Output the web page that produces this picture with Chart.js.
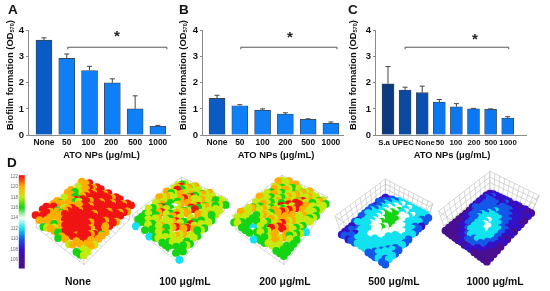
<!DOCTYPE html>
<html>
<head>
<meta charset="utf-8">
<script src="https://cdn.jsdelivr.net/npm/chart.js@4"></script>
<style>
    body { margin: 0; background: #fff; overflow: hidden; }
    #page { position: relative; width: 550px; height: 291px; font-family: "Liberation Sans", Arial, sans-serif; font-weight: bold; color: #111; }
    canvas { position: absolute; left: 0; top: 0; }
    #chartD { filter: blur(0.7px); }
    .letter { position: absolute; font-size: 13.5px; line-height: 14px; }
    .caption { position: absolute; font-size: 10.4px; line-height: 12px; width: 100px; text-align: center; }
</style>
</head>
<body>
<div id="page">
    <canvas id="chartD" width="550" height="291"></canvas>
    <canvas id="chartA" width="550" height="175"></canvas>
    <canvas id="chartB" width="550" height="175"></canvas>
    <canvas id="chartC" width="550" height="175"></canvas>
</div>
<script>
// bar values
const labelsAB = ["None", "50", "100", "200", "500", "1000"]
const labelsC = ["S.a", "UPEC", "None", "50", "100", "200", "500", "1000"]

const valuesA = [3.63, 2.93, 2.47, 2.0, 1.0, 0.33]
const errorsA = [0.09, 0.17, 0.16, 0.15, 0.5, 0.04]
const valuesB = [1.4, 1.12, 0.95, 0.8, 0.6, 0.45]
const errorsB = [0.12, 0.04, 0.05, 0.05, 0.02, 0.05]
const valuesC = [1.96, 1.72, 1.62, 1.26, 1.08, 1.0, 0.98, 0.65]
const errorsC = [0.66, 0.11, 0.25, 0.1, 0.12, 0.02, 0.02, 0.05]

const darkBlue = "#0a5cc4"
const lightBlue = "#0f7ff5"
const colorsAB = [darkBlue, lightBlue, lightBlue, lightBlue, lightBlue, lightBlue]
const colorsC = ["#0b3a80", "#0b4a9f", "#0a4fae", "#0b78f2", "#0b78f2", "#0b78f2", "#0b78f2", "#0b78f2"]

// colour bar of panel D
const colorTicks = [122, 120, 118, 116, 114, 112, 110, 108, 106]
const levelColors = ["#4a0f90", "#3410c8", "#1458ea", "#12e2f0", "#f4fff8", "#14d414", "#c4ea10", "#ffae00", "#f01414"]

// surfaces: one digit per cell, index into colorTicks from the bottom (0 = 106 ... 8 = 122)
// top left of the block = back corner, top right = right corner, bottom left = left corner, bottom right = front corner
const surfaceNone = [
    "77878878788788", "67787888878887", "56778887888878", "75578788887888", "77568878888887",
    "67787888788788", "56777788888878", "77678888878857", "75578888887687", "78778888888787",
    "87777888888876", "88757788878877", "78776578887766", "87567757767556"]
const surface100 = [
    "56567656765665", "65676567667567", "67865766756766", "56876786567656", "76657875786675",
    "67546756887566", "76554667765765", "65765676567656", "56786578656875", "65578667877866",
    "56567656786755", "55655675667656", "55565567656555", "35453556555453"]
const surface200 = [
    "66757656766565", "75667567675676", "66576675667656", "57656766787665", "65765676887656",
    "66567568786766", "76656687876653", "65765778767565", "56676667676656", "67567576787565",
    "66556656788765", "76535656876755", "65554565677655", "56555355566555"]
const surface500 = [
    "11223333333332", "12233343433322", "22333443434331", "12334445443322", "22334455443332",
    "23334555544333", "23334455544432", "22334454543332", "12334445433333", "23333444433322",
    "11233343333232", "12133333332333", "11223333323323", "12122333222322"]
const surface1000 = [
    "01111110110100", "11211121111101", "12222122211110", "11222222221110", "11222232222111",
    "12222333322110", "01223333332211", "01223334333210", "01122334433211", "00122333433210",
    "00112333332110", "00011232322100", "00001122211000", "00000101100000"]

// cages of the five plots in page pixels, corners in the order left, front, right, back
const cageNone = { top: [[32, 217], [81, 253], [129, 207], [79, 180]], floor: [[33, 230], [81, 268], [127, 222], [79, 195]] }
const cage100 = { top: [[130, 217], [178, 250], [227, 200], [180, 178]], floor: [[135, 232], [178, 267], [223, 213], [181, 193]] }
const cage200 = { top: [[232, 217], [284, 250], [328, 198], [282, 176]], floor: [[235, 232], [284, 268], [325, 213], [283, 192]] }
const cage500 = { top: [[336, 218], [387, 253], [435, 205], [387, 180]], floor: [[343, 238], [387, 270], [430, 222], [387, 200]] }
const cage1000 = { top: [[441, 213], [490, 248], [543, 197], [493, 172]], floor: [[448, 233], [490, 265], [535, 215], [493, 195]] }

const letters = [["A", 8, 3], ["B", 179, 3], ["C", 348, 3], ["D", 7, 156]]
const captions = [["None", 78], ["100 μg/mL", 185], ["200 μg/mL", 285], ["500 μg/mL", 394], ["1000 μg/mL", 495]]

const page = document.getElementById("page")
for (const l of letters) {
    const el = document.createElement("div")
    el.className = "letter"
    el.textContent = l[0]
    el.style.left = l[1] + "px"
    el.style.top = l[2] + "px"
    page.appendChild(el)
}
for (const c of captions) {
    const el = document.createElement("div")
    el.className = "caption"
    el.textContent = c[0]
    el.style.left = (c[1] - 50) + "px"
    el.style.top = "276px"
    page.appendChild(el)
}

const FONT = '"Liberation Sans", Arial, sans-serif'

// draws what chart.js has no option for: error bars, bracket + star, axis titles
function overlayPlugin(p) {
    return {
        id: "overlay",
        afterDatasetsDraw(chart) {
            const ctx = chart.ctx
            const x = chart.scales.x
            const y = chart.scales.y
            ctx.save()

            ctx.strokeStyle = "#444"
            ctx.lineWidth = 1
            p.values.forEach((v, i) => {
                const px = x.getPixelForValue(i)
                const top = y.getPixelForValue(v + p.errors[i])
                ctx.beginPath()
                ctx.moveTo(px, y.getPixelForValue(v))
                ctx.lineTo(px, top)
                ctx.moveTo(px - 2.5, top)
                ctx.lineTo(px + 2.5, top)
                ctx.stroke()
            })

            // bracket
            const by = y.getPixelForValue(3.36)
            const bx1 = x.getPixelForValue(1) + p.bracketPad[0]
            const bx2 = x.getPixelForValue(p.values.length - 1) + p.bracketPad[1]
            ctx.strokeStyle = "#555"
            ctx.beginPath()
            ctx.moveTo(bx1, by + 2)
            ctx.lineTo(bx1, by)
            ctx.lineTo(bx2, by)
            ctx.lineTo(bx2, by + 2)
            ctx.stroke()

            ctx.fillStyle = "#222"
            ctx.font = "bold 15px " + FONT
            ctx.textAlign = "center"
            ctx.textBaseline = "middle"
            ctx.fillText("*", p.starX, p.starY)

            ctx.fillStyle = "#111"
            ctx.font = "bold 9.4px " + FONT
            ctx.fillText("ATO NPs (μg/mL)", p.xTitleX, 155)

            // y title with the subscript
            ctx.translate(p.yTitleX, 75)
            ctx.rotate(-Math.PI / 2)
            const main = "Biofilm formation (OD"
            const w1 = ctx.measureText(main).width
            const w3 = ctx.measureText(")").width
            ctx.font = "bold 5.6px " + FONT
            const w2 = ctx.measureText("570").width
            const start = -(w1 + w2 + w3) / 2
            ctx.textAlign = "left"
            ctx.fillText("570", start + w1, 2.5)
            ctx.font = "bold 9.4px " + FONT
            ctx.fillText(main, start, 0)
            ctx.fillText(")", start + w1 + w2, 0)
            ctx.restore()
        }
    }
}

function barChart(id, p) {
    return new Chart(document.getElementById(id), {
        type: "bar",
        data: {
            datasets: [{
                data: p.values.map((v, i) => ({ x: i, y: v })),
                backgroundColor: p.colors,
                borderColor: "#3c4656",
                borderWidth: 0.8,
                barThickness: p.barWidth
            }]
        },
        options: {
            responsive: false,
            animation: false,
            layout: { padding: { left: p.plotLeft - 28, right: 550 - p.plotRight, top: 30.5, bottom: 0 } },
            plugins: { legend: { display: false }, tooltip: { enabled: false } },
            scales: {
                x: {
                    type: "linear",
                    offset: false,
                    min: p.xMin,
                    max: p.xMax,
                    afterFit: s => { s.height = 40 },
                    // labels do not sit exactly under the bars in the original
                    afterBuildTicks: s => { s.ticks = p.labelAt.map(v => ({ value: v })) },
                    border: { color: "#8a8a8a" },
                    grid: { display: false, drawTicks: false },
                    ticks: {
                        autoSkip: false,
                        maxRotation: 0,
                        padding: 3,
                        color: "#111",
                        font: { family: FONT, weight: "bold", size: p.tickSize },
                        callback: (v, i) => p.labels[i]
                    }
                },
                y: {
                    min: 0,
                    max: 4,
                    afterFit: s => { s.width = 28 },
                    border: { color: "#8a8a8a" },
                    grid: { drawOnChartArea: false, tickLength: 2, color: "#8a8a8a" },
                    ticks: {
                        stepSize: 1,
                        padding: 2,
                        color: "#111",
                        font: { family: FONT, weight: "bold", size: 9.5 }
                    }
                }
            }
        },
        plugins: [overlayPlugin(p)]
    })
}

barChart("chartA", {
    labels: labelsAB, values: valuesA, errors: errorsA, colors: colorsAB,
    labelAt: [0, 1, 1.95, 2.95, 4, 5],
    plotLeft: 28, plotRight: 170, xMin: -0.7, xMax: 5.53, barWidth: 16, tickSize: 8.4,
    bracketPad: [1, 9], starX: 117, starY: 37, xTitleX: 101.5, yTitleX: 10
})
barChart("chartB", {
    labels: labelsAB, values: valuesB, errors: errorsB, colors: colorsAB,
    labelAt: [0, 1, 2, 3, 4, 5],
    plotLeft: 202, plotRight: 343, xMin: -0.66, xMax: 5.53, barWidth: 16, tickSize: 8.4,
    bracketPad: [1, 6], starX: 290, starY: 38, xTitleX: 276, yTitleX: 183
})
barChart("chartC", {
    labels: labelsC, values: valuesC, errors: errorsC, colors: colorsC,
    labelAt: [-0.23, 0.88, 2.17, 3.04, 3.97, 5.03, 6.02, 7.02],
    plotLeft: 375, plotRight: 526, xMin: -0.76, xMax: 8.07, barWidth: 12, tickSize: 7.8,
    bracketPad: [0, 1], starX: 475, starY: 40, xTitleX: 452, yTitleX: 353
})

// panel D: scatter chart whose scales are the page pixels

// u goes left->front, v goes left->back
function onQuad(q, u, v) {
    const [L, F, R, B] = q
    return [
        (1 - u) * (1 - v) * L[0] + u * (1 - v) * F[0] + u * v * R[0] + (1 - u) * v * B[0],
        (1 - u) * (1 - v) * L[1] + u * (1 - v) * F[1] + u * v * R[1] + (1 - u) * v * B[1]
    ]
}

function inCage(cage, u, v, h) {
    const a = onQuad(cage.floor, u, v)
    const b = onQuad(cage.top, u, v)
    return { x: a[0] + (b[0] - a[0]) * h, y: a[1] + (b[1] - a[1]) * h }
}

function surfacePoints(rows, cage) {
    const n = rows.length - 1
    const m = rows[0].length - 1
    const pts = []
    rows.forEach((row, r) => {
        for (let c = 0; c <= m; c++) {
            const level = Number(row[c])
            const p = inCage(cage, c / m, 1 - r / n, Math.pow(level / 8, 1.5))
            pts.push({ x: p.x, y: p.y, level: level })
        }
    })
    // back to front so nearer cells cover the ones behind
    pts.sort((a, b) => a.y - b.y)
    return pts
}

function cagePoints(cage) {
    const pts = []
    const seg = (a, b) => { pts.push(a, b, { x: null, y: null }) }
    const DIV = 10
    for (let i = 0; i <= DIV; i++) {
        const t = i / DIV
        seg(inCage(cage, t, 0, 0), inCage(cage, t, 1, 0))
        seg(inCage(cage, 0, t, 0), inCage(cage, 1, t, 0))
        // two back walls
        seg(inCage(cage, 0, t, 0), inCage(cage, 0, t, 1))
        seg(inCage(cage, t, 1, 0), inCage(cage, t, 1, 1))
    }
    for (let h = 1; h <= 4; h++) {
        seg(inCage(cage, 0, 0, h / 4), inCage(cage, 0, 1, h / 4))
        seg(inCage(cage, 0, 1, h / 4), inCage(cage, 1, 1, h / 4))
    }
    // front edges
    seg(inCage(cage, 0, 0, 1), inCage(cage, 1, 0, 1))
    seg(inCage(cage, 1, 0, 1), inCage(cage, 1, 1, 1))
    seg(inCage(cage, 1, 0, 0), inCage(cage, 1, 0, 1))
    seg(inCage(cage, 1, 1, 0), inCage(cage, 1, 1, 1))
    return pts
}

const plots = [[surfaceNone, cageNone], [surface100, cage100], [surface200, cage200], [surface500, cage500], [surface1000, cage1000]]
const datasetsD = []
for (const [rows, cage] of plots) {
    datasetsD.push({
        data: cagePoints(cage),
        showLine: true,
        spanGaps: false,
        pointRadius: 0,
        borderColor: "#c6c6c6",
        borderWidth: 0.7,
        order: 2
    })
    const pts = surfacePoints(rows, cage)
    datasetsD.push({
        data: pts,
        pointRadius: 3.9,
        borderWidth: 0,
        pointBackgroundColor: pts.map(q => levelColors[q.level]),
        order: 1
    })
}

const colorBarPlugin = {
    id: "colorBar",
    afterDraw(chart) {
        const ctx = chart.ctx
        const px = chart.scales.x
        const py = chart.scales.y
        const top = py.getPixelForValue(176)
        const bottom = py.getPixelForValue(272)
        const grad = ctx.createLinearGradient(0, top, 0, bottom)
        colorTicks.forEach((t, i) => {
            grad.addColorStop((1 + i * 10.75) / 96, levelColors[8 - i])
        })
        ctx.save()
        ctx.fillStyle = grad
        ctx.fillRect(px.getPixelForValue(15), top, 6, bottom - top)
        ctx.fillStyle = "#666"
        ctx.font = "4.5px " + FONT
        ctx.textAlign = "center"
        ctx.textBaseline = "middle"
        colorTicks.forEach((t, i) => {
            ctx.fillText(String(t), px.getPixelForValue(10.5), py.getPixelForValue(177.3 + i * 10.75))
        })
        ctx.restore()
    }
}

new Chart(document.getElementById("chartD"), {
    type: "scatter",
    data: { datasets: datasetsD },
    options: {
        responsive: false,
        animation: false,
        layout: { padding: 0 },
        plugins: { legend: { display: false }, tooltip: { enabled: false } },
        scales: {
            x: { type: "linear", min: 0, max: 550, display: false },
            y: { type: "linear", min: 0, max: 291, reverse: true, display: false }
        }
    },
    plugins: [colorBarPlugin]
})
</script>
</body>
</html>
